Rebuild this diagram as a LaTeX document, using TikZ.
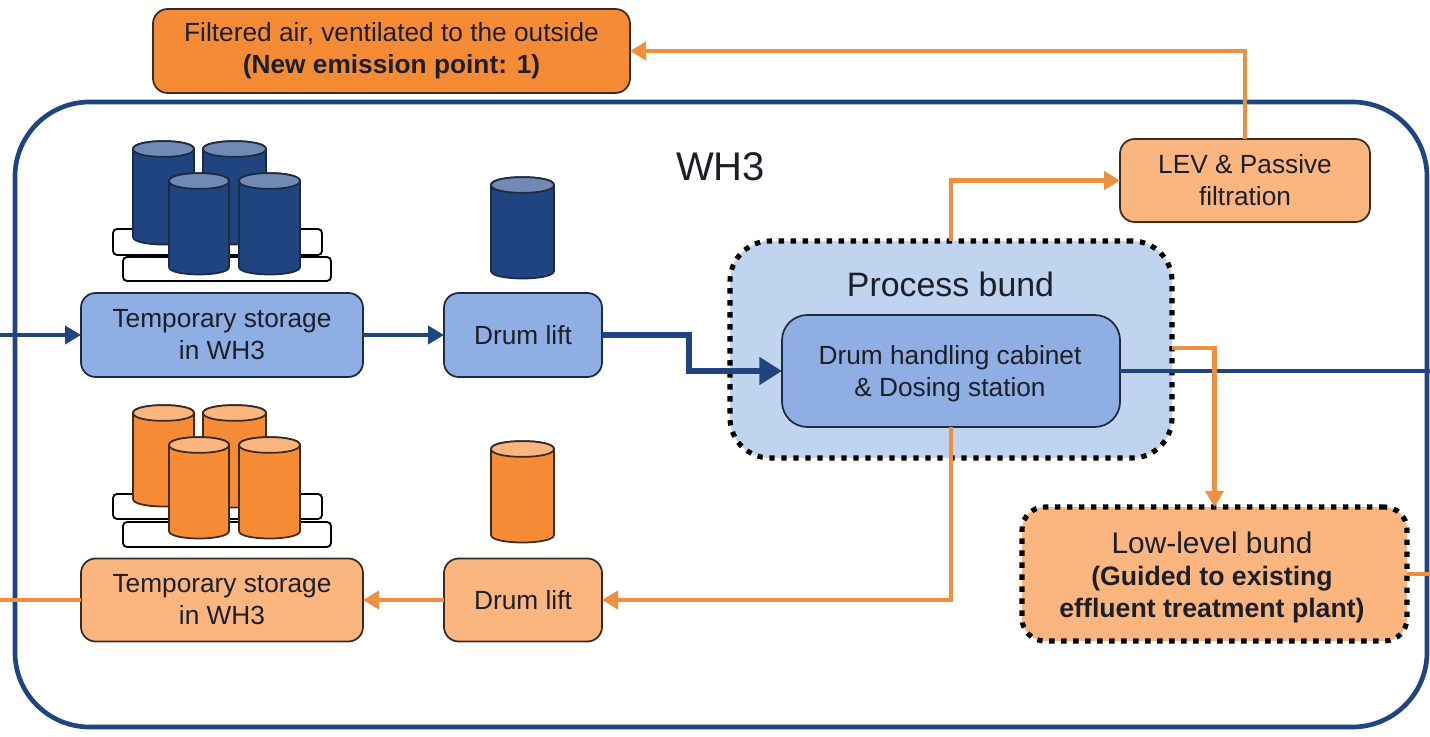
\documentclass[tikz,border=0pt]{standalone}
\usepackage{fontspec}
\setmainfont{Liberation Sans}
\usetikzlibrary{arrows.meta,calc}
\definecolor{navy}{HTML}{1F4480}
\definecolor{orln}{HTML}{EF8F40}
\definecolor{bluebox}{HTML}{8FAEE3}
\definecolor{bundblue}{HTML}{C0D3EF}
\definecolor{orbox}{HTML}{FBB57E}
\definecolor{ordeep}{HTML}{F58B35}
\definecolor{lidblue}{HTML}{7389B5}
\definecolor{edge}{HTML}{1E2A3E}
\definecolor{edgeo}{HTML}{3C2A1E}
\definecolor{txt}{HTML}{1C1F28}
\newcommand{\drumshape}[7]{% cx, top, bottom, halfwidth, body, lid, stroke
  \draw[draw=#7,line width=1.3pt,fill=#5]
    (#1-#4,#2+8) -- (#1-#4,#3-8)
    .. controls (#1-#4,#3+2) and (#1+#4,#3+2) .. (#1+#4,#3-8)
    -- (#1+#4,#2+8)
    .. controls (#1+#4,#2-2.5) and (#1-#4,#2-2.5) .. (#1-#4,#2+8) -- cycle;
  \draw[draw=#7,line width=1.3pt,fill=#6]
    (#1-#4,#2+8)
    .. controls (#1-#4,#2-2.5) and (#1+#4,#2-2.5) .. (#1+#4,#2+8)
    .. controls (#1+#4,#2+18.5) and (#1-#4,#2+18.5) .. (#1-#4,#2+8) -- cycle;
}
\newcommand{\palletshape}[4]{%
  \draw[draw=black,line width=1.4pt,fill=white,rounded corners=3pt] (#1,#2) rectangle (#3,#4);
}
\tikzset{
  x=0.75pt,y=-0.75pt,
  size/.style 2 args={minimum width=#1*0.75pt,minimum height=#2*0.75pt,inner sep=0pt,outer sep=0pt},
  procbox/.style={draw=edge,line width=1.3pt,align=center,text=txt,font=\fontsize{19.7pt}{24pt}\selectfont},
  bluefill/.style={procbox,fill=bluebox,rounded corners=11pt},
  orfill/.style={procbox,draw=edgeo,fill=orbox,rounded corners=11pt},
  dotbox/.style={draw=black,line width=3.8pt,dash pattern=on 4pt off 5pt},
  navyline/.style={draw=navy,line width=3.4pt},
  orline/.style={draw=orln,line width=3.4pt},
  bluetip/.style={-{Triangle[length=12pt,width=13.5pt]}},
  ortip/.style={-{Triangle[length=12pt,width=13.5pt]}},
}
\begin{document}
\begin{tikzpicture}
\useasboundingbox (0,0) rectangle (1430,737);
\fill[white] (0,0) rectangle (1430,737);

% enclosing building
\node[size={1412}{625},draw=navy,line width=3.5pt,rounded corners=56pt] (wh) at (721,414.5) {};
\node[text=txt,font=\fontsize{30pt}{36pt}\selectfont,inner sep=0pt] (whlabel) at (720.5,167) {WH3};

% bunds and boxes
\node[size={442}{217},dotbox,fill=bundblue,rounded corners=30pt] (bund) at (951,349.5) {};
\node[text=txt,font=\fontsize{25.4pt}{30pt}\selectfont,inner sep=0pt] (bundlabel) at (950.5,284) {Process bund};

\coordinate (inL) at (0,335);
\coordinate (outBlue) at (1430,371);
\coordinate (outOrL) at (0,600);
\coordinate (outOrR) at (1430,574);
\coordinate (bundOut) at (1172,348);

\node[size={282}{84},bluefill] (tempb) at (222,335) {Temporary storage\\in WH3};
\node[size={158}{84},bluefill] (liftb) at (523,335) {Drum lift};
\node[size={282}{83},orfill] (tempo) at (222,600) {Temporary storage\\in WH3};
\node[size={158}{83},orfill] (lifto) at (523,600) {Drum lift};
\node[size={338}{112},bluefill,rounded corners=19pt] (cab) at (951,371) {};
\node[align=center,text=txt,inner sep=0pt,font=\fontsize{19.7pt}{24pt}\selectfont] (cabtext) at (950,373.5) {Drum handling cabinet\\\& Dosing station};
\node[size={250}{83},orfill] (lev) at (1245,180.5) {LEV \& Passive\\filtration};
\node[size={477}{84},orfill,fill=ordeep] (filt) at (391.5,51) {Filtered air, ventilated to the outside\\\textbf{(New emission point: 1)}};
\node[size={385}{134},dotbox,fill=orbox,rounded corners=17pt] (low) at (1214.5,574) {};
\node[align=center,text=txt,inner sep=0pt,font=\fontsize{20pt}{24pt}\selectfont] (lowtext) at (1212,577)
  {{\fontsize{22.4pt}{24pt}\selectfont Low-level bund}\\\textbf{(Guided to existing}\\\textbf{effluent treatment plant)}};

% navy flows
\draw[navyline,bluetip] (inL) -- (tempb.west);
\draw[navyline,bluetip] (tempb.east) -- (liftb.west);
\draw[navyline,line width=4.5pt,-{Triangle[length=17pt,width=20pt]}] (liftb.east) -- ++(87,0) |- (cab.west);
\draw[navyline] (cab.east) -- (outBlue);

% orange flows
\draw[orline,ortip] (bund.north) |- (lev.west);
\draw[orline,ortip] (lev.north) |- (filt.east);
\draw[orline,ortip] (cab.south) |- (lifto.east);
\draw[orline,ortip] (lifto.west) -- (tempo.east);
\draw[orline] (tempo.west) -- (outOrL);
\draw[orline,ortip] (bundOut) -| (low.north);
\draw[orline] (low.east |- outOrR) -- (outOrR);

% blue drums on pallets
\palletshape{113}{229}{322}{255}
\palletshape{123}{257}{331}{281}
\drumshape{163.5}{141}{245}{30.5}{navy}{lidblue}{edge}
\drumshape{234.5}{141}{245}{31.5}{navy}{lidblue}{edge}
\drumshape{199}{173}{275}{30}{navy}{lidblue}{edge}
\drumshape{269.5}{173}{275}{30.5}{navy}{lidblue}{edge}
\drumshape{522.5}{177}{279}{31.5}{navy}{lidblue}{edge}

% orange drums on pallets
\palletshape{113}{494}{322}{519}
\palletshape{123}{522}{331}{547}
\drumshape{163.5}{405}{507}{30.5}{ordeep}{orbox}{edgeo}
\drumshape{234.5}{405}{508}{31.5}{ordeep}{orbox}{edgeo}
\drumshape{199}{437}{539}{30}{ordeep}{orbox}{edgeo}
\drumshape{269.5}{437}{539}{30.5}{ordeep}{orbox}{edgeo}
\drumshape{522.5}{441}{543}{31.5}{ordeep}{orbox}{edgeo}
\end{tikzpicture}
\end{document}
